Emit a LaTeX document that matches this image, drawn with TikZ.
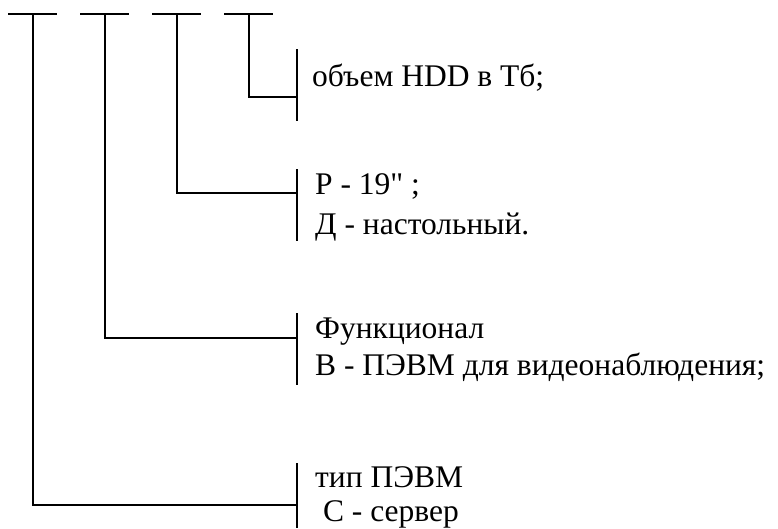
\documentclass[tikz,border=0pt]{standalone}
\usepackage{fontspec}
\setmainfont{Liberation Serif}[Ligatures=TeXOff]
\begin{document}
\begin{tikzpicture}[x=1pt,y=-1pt,
  ln/.style={line width=1.6pt, line cap=butt},
  lbl/.style={anchor=base west, inner sep=0pt, font=\fontsize{31.5}{38}\selectfont}]
\useasboundingbox (0,0) rectangle (778,528);
% top bars
\foreach \i/\cx in {1/33,2/105,3/177,4/249}{
  \coordinate (tl\i) at (\cx-25,14);
  \coordinate (tr\i) at (\cx+24,14);
  \coordinate (top\i) at (\cx,14);
  \draw[ln] (tl\i) -- (tr\i);
}
% bracket coordinates
\coordinate (b4t) at (297,49);  \coordinate (b4m) at (297,97);  \coordinate (b4b) at (297,121);
\coordinate (b3t) at (297,169); \coordinate (b3m) at (297,193); \coordinate (b3b) at (297,241);
\coordinate (b2t) at (297,313); \coordinate (b2m) at (297,338); \coordinate (b2b) at (297,385);
\coordinate (b1t) at (297,463); \coordinate (b1m) at (297,505); \coordinate (b1b) at (297,528);
\foreach \i in {1,2,3,4}{ \draw[ln] (b\i t) -- (b\i b); }
% connectors
\draw[ln] (top1) |- (b1m);
\draw[ln] (top2) |- (b2m);
\draw[ln] (top3) |- (b3m);
\draw[ln] (top4) |- (b4m);
% labels
\node[lbl] (t4) at (312,86) {объем HDD в Тб;};
\node[lbl] (t3a) at (315,194) {Р - 19" ;};
\node[lbl] (t3b) at (315,234) {Д - настольный.};
\node[lbl] (t2a) at (315,338) {Функционал};
\node[lbl] (t2b) at (315,375) {В - ПЭВМ для видеонаблюдения;};
\node[lbl] (t1a) at (315,487) {тип ПЭВМ};
\node[lbl] (t1b) at (315,521) {\ С - сервер};
\end{tikzpicture}
\end{document}
